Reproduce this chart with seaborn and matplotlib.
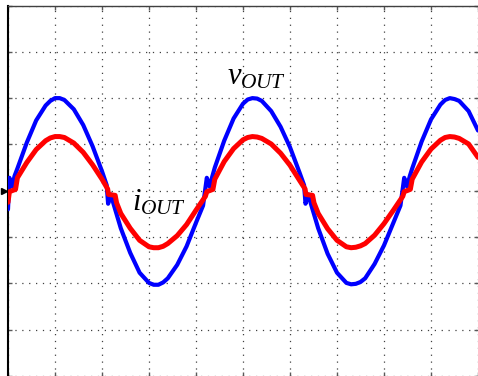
import matplotlib
matplotlib.use("Agg")
import matplotlib.pyplot as plt
import matplotlib.transforms as mtransforms
import pandas as pd
import seaborn as sns

# ---- data (time and amplitude in screen divisions) ----
v_time = [0.00, 0.03, 0.09, 0.14, 0.20, 0.4, 0.6, 0.8, 0.9, 1.0, 1.1, 1.2, 1.4, 1.6, 1.8, 2.0,
          2.10, 2.13, 2.19, 2.25, 2.4, 2.6, 2.8, 3.0, 3.1, 3.2, 3.3, 3.4, 3.6, 3.8, 4.0,
          4.15, 4.23, 4.29, 4.35, 4.4, 4.6, 4.8, 5.0, 5.1, 5.2, 5.3, 5.4, 5.6, 5.8, 6.0, 6.2,
          6.30, 6.33, 6.39, 6.45, 6.6, 6.8, 7.0, 7.2, 7.3, 7.4, 7.5, 7.6, 7.8, 8.0, 8.2,
          8.35, 8.43, 8.49, 8.55, 8.6, 8.8, 9.0, 9.2, 9.3, 9.4, 9.5, 9.6, 9.8, 10.0]
v_out = [-0.40, 0.28, 0.09, 0.32, 0.48, 1.04, 1.52, 1.84, 1.94, 2.00, 2.00, 1.96, 1.76, 1.42, 0.96, 0.42,
         0.12, -0.28, -0.08, -0.30, -0.81, -1.34, -1.77, -1.99, -2.03, -2.03, -1.98, -1.89, -1.60, -1.20, -0.69,
         -0.32, 0.28, 0.09, 0.32, 0.50, 1.08, 1.56, 1.88, 1.97, 2.00, 1.99, 1.94, 1.72, 1.38, 0.94, 0.40,
         0.12, -0.28, -0.08, -0.30, -0.81, -1.36, -1.77, -1.99, -2.02, -2.01, -1.97, -1.89, -1.58, -1.18, -0.69,
         -0.32, 0.28, 0.09, 0.32, 0.48, 1.06, 1.54, 1.86, 1.96, 2.00, 1.98, 1.94, 1.72, 1.30]

i_time = [0.00, 0.03, 0.16, 0.20, 0.4, 0.6, 0.8, 0.9, 1.0, 1.1, 1.2, 1.4, 1.6, 1.8, 2.0,
          2.12, 2.14, 2.28, 2.31, 2.4, 2.6, 2.8, 3.0, 3.1, 3.2, 3.3, 3.4, 3.6, 3.8, 4.0,
          4.2, 4.23, 4.36, 4.4, 4.6, 4.8, 5.0, 5.1, 5.2, 5.3, 5.4, 5.6, 5.8, 6.0, 6.2,
          6.32, 6.34, 6.48, 6.51, 6.6, 6.8, 7.0, 7.2, 7.3, 7.4, 7.5, 7.6, 7.8, 8.0, 8.2,
          8.4, 8.43, 8.56, 8.6, 8.8, 9.0, 9.2, 9.3, 9.4, 9.5, 9.6, 9.8, 10.0]
i_out = [-0.25, -0.02, 0.03, 0.28, 0.61, 0.89, 1.08, 1.14, 1.17, 1.17, 1.15, 1.03, 0.83, 0.56, 0.25,
         0.04, -0.08, -0.10, -0.26, -0.49, -0.81, -1.07, -1.21, -1.23, -1.23, -1.20, -1.14, -0.97, -0.73, -0.42,
         -0.12, -0.02, 0.03, 0.25, 0.63, 0.91, 1.10, 1.15, 1.17, 1.16, 1.13, 1.01, 0.81, 0.55, 0.23,
         0.04, -0.08, -0.10, -0.26, -0.49, -0.82, -1.07, -1.21, -1.23, -1.22, -1.19, -1.14, -0.96, -0.71, -0.42,
         -0.12, -0.02, 0.03, 0.25, 0.62, 0.90, 1.09, 1.15, 1.17, 1.16, 1.13, 1.01, 0.72]

x_divisions = list(range(0, 11))
y_divisions = list(range(-4, 5))
v_label = r"$v_{OUT}$"
i_label = r"$i_{OUT}$"

# ---- style ----
sns.set_theme(style="white")
plt.rcParams["font.family"] = ["Liberation Serif", "DejaVu Serif"]
plt.rcParams["mathtext.fontset"] = "custom"
plt.rcParams["mathtext.it"] = "Liberation Serif:italic"
plt.rcParams["mathtext.rm"] = "Liberation Serif"

fig = plt.figure(figsize=(4.78, 3.76), dpi=100)
ax = fig.add_axes([8 / 478, 0, 470 / 478, 370.5 / 376])

df_v = pd.DataFrame({"t": v_time, "v": v_out})
df_i = pd.DataFrame({"t": i_time, "i": i_out})
sns.lineplot(data=df_v, x="t", y="v", color="#0000ff", lw=3.0, ax=ax,
             estimator=None, sort=False, zorder=3)
sns.lineplot(data=df_i, x="t", y="i", color="#ff0000", lw=3.6, ax=ax,
             estimator=None, sort=False, zorder=4)

ax.set_xlim(0, 10)
ax.set_ylim(-4, 4)
ax.set_xticks(x_divisions)
ax.set_yticks(y_divisions)
ax.set_xlabel("")
ax.set_ylabel("")
ax.set_axisbelow(True)
ax.grid(True, color="0.25", linestyle=(0, (1, 4.5)), linewidth=0.9)
ax.tick_params(direction="in", length=3, width=1, colors="0.35",
               top=True, right=True, left=True, bottom=True,
               labelleft=False, labelbottom=False)

ax.spines["left"].set_color("black")
ax.spines["left"].set_linewidth(1.5)
ax.spines["top"].set_color("0.25")
ax.spines["top"].set_linewidth(1.0)
ax.spines["right"].set_visible(False)
ax.spines["bottom"].set_visible(False)

# ground-level marker on the left edge
trans = mtransforms.blended_transform_factory(ax.transAxes, ax.transData)
ax.plot([-0.008], [0], marker=">", ms=5, color="black", transform=trans, clip_on=False)

ax.text(4.66, 2.29, v_label, fontsize=22, color="black", ha="left", va="baseline")
ax.text(2.64, -0.42, i_label, fontsize=22, color="black", ha="left", va="baseline")

fig.savefig("out.png", dpi=100)
